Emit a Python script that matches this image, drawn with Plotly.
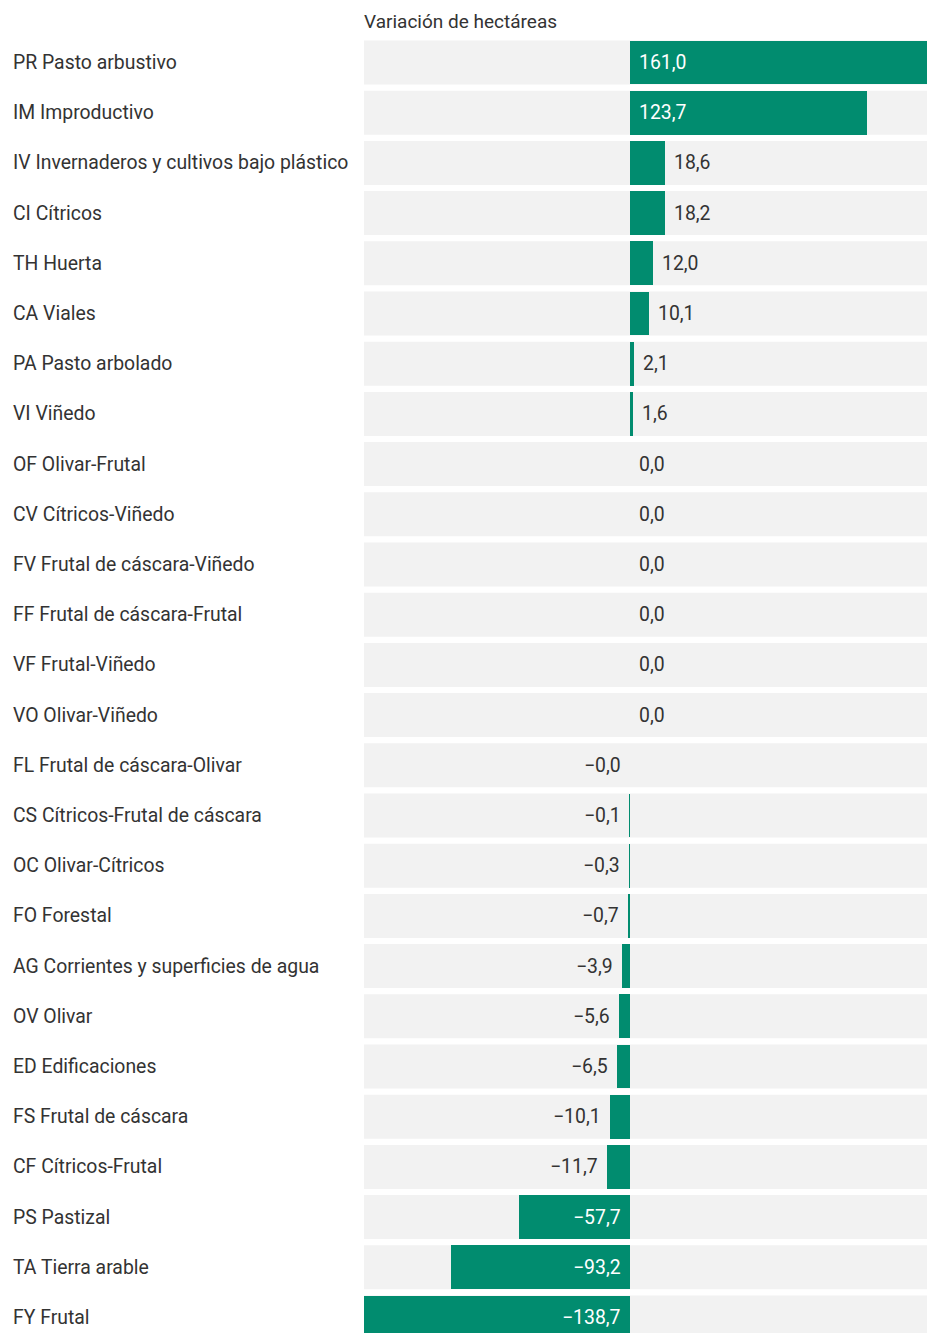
import math
import plotly.graph_objects as go

categories = [
    "PR Pasto arbustivo", "IM Improductivo", "IV Invernaderos y cultivos bajo plástico",
    "CI Cítricos", "TH Huerta", "CA Viales", "PA Pasto arbolado", "VI Viñedo",
    "OF Olivar-Frutal", "CV Cítricos-Viñedo", "FV Frutal de cáscara-Viñedo",
    "FF Frutal de cáscara-Frutal", "VF Frutal-Viñedo", "VO Olivar-Viñedo",
    "FL Frutal de cáscara-Olivar", "CS Cítricos-Frutal de cáscara", "OC Olivar-Cítricos",
    "FO Forestal", "AG Corrientes y superficies de agua", "OV Olivar", "ED Edificaciones",
    "FS Frutal de cáscara", "CF Cítricos-Frutal", "PS Pastizal", "TA Tierra arable", "FY Frutal",
]
values = [161.0, 123.7, 18.6, 18.2, 12.0, 10.1, 2.1, 1.6, 0.0, 0.0, 0.0, 0.0, 0.0, 0.0,
          -0.0, -0.1, -0.3, -0.7, -3.9, -5.6, -6.5, -10.1, -11.7, -57.7, -93.2, -138.7]
inside = [True, True] + [False] * 21 + [True, True, True]

title_text = "Variación de hectáreas"

GREEN = "#018c6f"
DARK = "#333333"
FONT = "Roboto"

def is_neg(v):
    return math.copysign(1.0, v) < 0

def fmt(v):
    s = f"{abs(v):.1f}".replace(".", ",")
    return ("\u2212" + s) if is_neg(v) else s

pos = list(range(len(categories)))

fig = go.Figure()
fig.add_trace(go.Bar(
    x=values, y=pos, orientation="h", width=0.876,
    marker=dict(color=GREEN, line=dict(width=0)),
    hoverinfo="skip", showlegend=False,
))

shapes = []
annotations = []
for i, (c, v, ins) in enumerate(zip(categories, values, inside)):
    shapes.append(dict(type="rect", xref="paper", yref="y", x0=0, x1=1,
                       y0=i - 0.438, y1=i + 0.438, fillcolor="#f2f2f2",
                       line=dict(width=0), layer="below"))
    annotations.append(dict(xref="paper", yref="y", x=(13 - 364) / 563, y=i, xshift=-2,
                            text=c, showarrow=False, xanchor="left", yanchor="middle",
                            font=dict(family=FONT, size=19.4, color=DARK)))
    neg = is_neg(v)
    if ins:
        ax = 0
        color = "white"
    else:
        ax = v
        color = DARK
    annotations.append(dict(xref="x", yref="y", x=ax, y=i, text=fmt(v), showarrow=False,
                            xanchor="right" if neg else "left", yanchor="middle",
                            xshift=-7 if neg else 7,
                            font=dict(family=FONT, size=19.4, color=color)))

annotations.append(dict(xref="paper", yref="paper", x=0, y=1, yshift=5, xshift=-2,
                        text=title_text, showarrow=False, xanchor="left", yanchor="bottom",
                        font=dict(family=FONT, size=19, color=DARK)))

fig.update_layout(
    width=927, height=1333, autosize=False,
    margin=dict(l=364, r=0, t=40, b=0, pad=0),
    paper_bgcolor="white", plot_bgcolor="white",
    xaxis=dict(range=[-138.7, 155.1], showgrid=False, zeroline=False,
               showticklabels=False, ticks="", fixedrange=True),
    yaxis=dict(range=[25.309, -0.448], showgrid=False, zeroline=False,
               showticklabels=False, ticks="", fixedrange=True),
    shapes=shapes, annotations=annotations,
    bargap=0,
)

post = ("document.body.style.margin='0';document.body.style.padding='0';"
        "document.documentElement.style.overflow='hidden';"
        "var gd=document.getElementById('{plot_id}');"
        "Plotly.relayout(gd,{width:927,height:1333});")

fig.write_html("out.html", post_script=post,
               config={"responsive": False, "displayModeBar": False})
